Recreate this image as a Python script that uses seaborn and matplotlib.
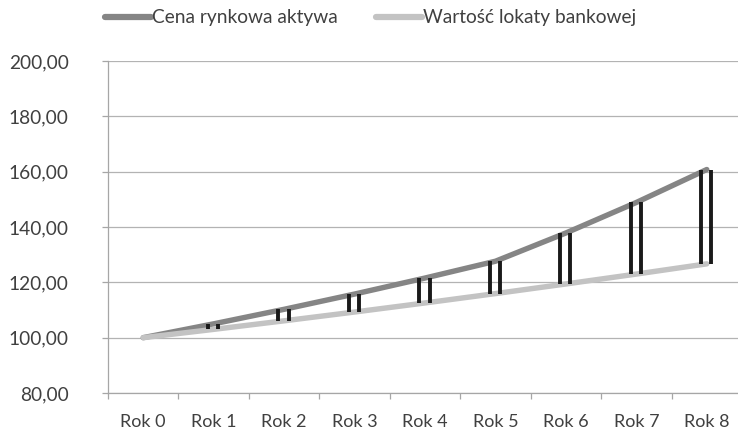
import pandas as pd
import matplotlib.pyplot as plt
import seaborn as sns
from matplotlib.ticker import FuncFormatter, MultipleLocator

# Data
lata = ["Rok 0", "Rok 1", "Rok 2", "Rok 3", "Rok 4", "Rok 5", "Rok 6", "Rok 7", "Rok 8"]
cena_aktywa = [100.00, 105.00, 110.25, 115.76, 121.55, 127.63, 137.84, 148.87, 160.78]
lokata = [100.00, 103.00, 106.09, 109.27, 112.55, 115.93, 119.41, 122.99, 126.68]
serie = ["Cena rynkowa aktywa", "Wartość lokaty bankowej"]

df = pd.DataFrame({
    "x": list(range(len(lata))) * 2,
    "wartosc": cena_aktywa + lokata,
    "seria": [serie[0]] * len(lata) + [serie[1]] * len(lata),
})

sns.set_theme(style="white")
plt.rcParams["font.family"] = ["Lato", "DejaVu Sans"]
txt = "#404040"

fig = plt.figure(figsize=(7.38, 4.30), dpi=100)
ax = fig.add_axes([108 / 738, 1 - 393 / 430, 634 / 738, 332 / 430])

sns.lineplot(data=df, x="x", y="wartosc", hue="seria", hue_order=serie,
             palette=["#858585", "#c3c3c3"], linewidth=3.9,
             solid_capstyle="round", legend=False, ax=ax)

# double black bars between the two lines
xs = list(range(1, len(lata)))
for off in (-0.08, 0.065):
    ax.vlines([x + off for x in xs], lokata[1:], cena_aktywa[1:],
              color="#1a1a1a", linewidth=2.8, zorder=5)

ax.set_xlim(-0.5, len(lata) - 0.5)
ax.set_ylim(80, 200)
ax.yaxis.set_major_locator(MultipleLocator(20))
ax.yaxis.set_major_formatter(FuncFormatter(lambda v, p: f"{v:.2f}".replace(".", ",")))
ax.set_xticks(range(len(lata)))
ax.set_xticklabels(lata)
ax.set_xticks([i - 0.5 for i in range(len(lata) + 1)], minor=True)
ax.set_xlabel("")
ax.set_ylabel("")

ax.grid(axis="y", color="#b3b3b3", linewidth=0.9)
ax.grid(axis="x", visible=False)
for s in ("top", "right"):
    ax.spines[s].set_visible(False)
for s in ("left", "bottom"):
    ax.spines[s].set_color("#a6a6a6")
    ax.spines[s].set_linewidth(0.9)

ax.tick_params(axis="y", which="major", left=True, length=4.3, width=0.9,
               color="#a6a6a6", pad=24, labelsize=13.8, labelcolor=txt)
ax.tick_params(axis="x", which="major", bottom=False, length=0, pad=15,
               labelsize=13, labelcolor=txt)
ax.tick_params(axis="x", which="minor", bottom=True, length=4.3, width=0.9,
               color="#a6a6a6")

handles = [plt.Line2D([], [], color="#858585", linewidth=4.5, solid_capstyle="round"),
           plt.Line2D([], [], color="#c3c3c3", linewidth=4.5, solid_capstyle="round")]
fig.legend(handles, serie, loc="center left", bbox_to_anchor=(105 / 738, 1 - 18 / 430),
           ncol=2, frameon=False, fontsize=13.8, handlelength=2.4, handletextpad=0.05,
           columnspacing=2.0, borderpad=0, borderaxespad=0, labelcolor=txt)

fig.savefig("out.png", dpi=100)
